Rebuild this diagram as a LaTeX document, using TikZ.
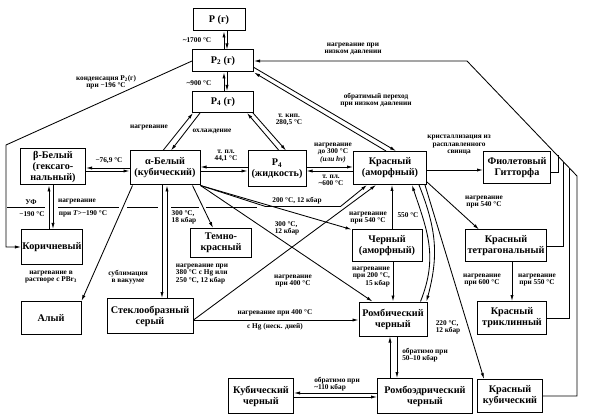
\documentclass[tikz,border=0pt]{standalone}
\usepackage{fontspec}
\setmainfont{Liberation Serif}
\usetikzlibrary{arrows.meta}

\begin{document}
\begin{tikzpicture}[
  x=1pt, y=-1pt,
  phase/.style = {draw, line width=1pt, align=center, inner sep=1pt,
                  font=\fontsize{10.2}{11}\selectfont\bfseries},
  lbl/.style   = {align=center, inner sep=0pt,
                  font=\fontsize{7.3}{7.2}\selectfont\bfseries},
  arr/.style   = {-{Latex[length=6pt, width=3.2pt]}, line width=0.85pt},
  ln/.style    = {line width=0.85pt},
]
\useasboundingbox (0,0) rectangle (596,419);

% gas phases
\node[phase, minimum width=52pt, minimum height=22pt] (pg)    at (219,20)  {P (г)};
\node[phase, minimum width=61pt, minimum height=22pt] (ptwo)  at (223,61)  {P\textsubscript{2} (г)};
\node[phase, minimum width=61pt, minimum height=21pt] (pfour) at (223,102) {P\textsubscript{4} (г)};

% middle row
\node[phase, minimum width=65pt, minimum height=36pt] (betaw)  at (53,167)  {β-Белый\\(гексаго-\\нальный)};
\node[phase, minimum width=70pt, minimum height=34pt] (alphaw) at (165,168) {α-Белый\\(кубический)};
\node[phase, minimum width=58pt, minimum height=36pt] (pliq)   at (277,169) {P\textsubscript{4}\\(жидкость)};
\node[phase, minimum width=73pt, minimum height=33pt] (redam)  at (390,168) {Красный\\(аморфный)};
\node[phase, minimum width=67pt, minimum height=32pt] (violet) at (517,168) {Фиолетовый\\Гитторфа};

\node[phase, minimum width=61pt, minimum height=35pt] (brown)   at (52,247)  {Коричневый};
\node[phase, minimum width=61pt, minimum height=29pt] (darkred) at (221,243) {Темно-\\красный};
\node[phase, minimum width=70pt, minimum height=32pt] (blackam) at (387,246) {Черный\\(аморфный)};
\node[phase, minimum width=81pt, minimum height=32pt] (redtet)  at (506,246) {Красный\\тетрагональный};

\node[phase, minimum width=60pt, minimum height=33pt] (scarlet) at (51,318)  {Алый};
\node[phase, minimum width=86pt, minimum height=35pt] (glassy)  at (150,316) {Стеклообразный\\серый};
\node[phase, minimum width=68pt, minimum height=34pt] (orthob)  at (393,319) {Ромбический\\черный};
\node[phase, minimum width=69pt, minimum height=33pt] (redtri)  at (512,318) {Красный\\триклинный};

\node[phase, minimum width=65pt, minimum height=35pt] (cubicb) at (261,396) {Кубический\\черный};
\node[phase, minimum width=95pt, minimum height=35pt] (rhomb)  at (425,396) {Ромбоэдрический\\черный};
\node[phase, minimum width=65pt, minimum height=33pt] (redcub) at (510,396) {Красный\\кубический};

% gas equilibria
\draw[arr] ([xshift=1pt]ptwo.north) -- ([xshift=1pt]ptwo.north |- pg.south);
\draw[arr] ([xshift=4pt]ptwo.north |- pg.south) -- ([xshift=4pt]ptwo.north);
\draw[arr] ([xshift=1pt]pfour.north) -- ([xshift=1pt]pfour.north |- ptwo.south);
\draw[arr] ([xshift=4pt]pfour.north |- ptwo.south) -- ([xshift=4pt]pfour.north);
\node[lbl] (l1700) at (197,40) {\textasciitilde1700 °C};
\node[lbl] (l900)  at (199,83) {\textasciitilde900 °C};

\draw[arr] (ptwo.west) -- ++(-186,84) |- (brown.west);
\node[lbl] (lcond) at (106,82) {конденсация P\textsubscript{2}(г)\\при −196 °C};

\draw[arr] ([xshift=-2pt]alphaw.north) -- ([xshift=1pt]pfour.south west);
\draw[arr] ([xshift=8pt]pfour.south west) -- ([xshift=6pt]alphaw.north);
\node[lbl] (lheat) at (149,128) {нагревание};
\node[lbl] (lcool) at (212,131) {охлаждение};

\draw[arr] ([xshift=2pt]pliq.north) -- ([xshift=-7pt]pfour.south east);
\draw[arr] ([xshift=-1pt]pfour.south east) -- ([xshift=9pt]pliq.north);
\node[lbl] (lboil) at (289,120) {т. кип.\\280,5 °C};

\draw[arr] ([xshift=-4pt]redam.north) -- (ptwo.south east);
\draw[arr] ([yshift=5pt]ptwo.south east) -- ([xshift=6pt]redam.north);
\node[lbl] (lrevlow) at (376,100) {обратимый переход\\при низком давлении};

% heating at low pressure, from the red forms
\draw[arr] (redcub.east) -- ++(34,0) -- ++(0,-220) -- ++(-110,-115) -- (ptwo.east);
\draw[ln] ([yshift=-4pt]violet.east) -| ++(7,-17);
\draw[ln] (redtet.east) -| ++(16,-84);
\draw[ln] (redtri.east) -| ++(22,-150);
\node[lbl] (llowp) at (353,49) {нагревание при\\низком давлении};

% white forms
\draw[arr] (alphaw.west) -- (alphaw.west -| betaw.east);
\draw[arr] ([yshift=-4pt]betaw.east) -- ([yshift=-4pt]betaw.east -| alphaw.west);
\node[lbl] (l769) at (109,161) {−76,9 °C};

\draw[arr] ([yshift=2pt]pliq.west) -- ([yshift=2pt]pliq.west -| alphaw.east);
\draw[arr] ([yshift=-3pt]alphaw.east) -- ([yshift=-3pt]alphaw.east -| pliq.west);
\node[lbl] (lmelt44) at (226,156) {т. пл.\\44,1 °C};

\draw[arr] ([yshift=2pt]pliq.east) -- ([yshift=2pt]pliq.east -| redam.west);
\draw[arr] ([yshift=-3pt]redam.west) -- ([yshift=-3pt]redam.west -| pliq.east);
\node[lbl] (lheat300) at (333,153) {нагревание\\до 300 °C\\\textit{(или hν)}};
\node[lbl] (lmelt600) at (331,180) {т. пл.\\\textasciitilde600 °C};

\draw[arr] ([xshift=-3pt]brown.north) -- ([xshift=-3pt]brown.north |- betaw.south);
\draw[arr] ([xshift=1pt]brown.north |- betaw.south) -- ([xshift=1pt]brown.north);
\node[lbl] (luv)   at (31,202) {УФ};
\node[lbl] (luvt)  at (32,214) {−190 °C};
\node[lbl] (lheatb) at (77,202) {нагревание};
\node[lbl] (ltb)   at (83,214) {при \textit{T}>−190 °C};
\draw[ln] (7,207) -- (45,207) (58,207) -- (119,207) (127,207) -- (158,207)
          (171,207) -- (199,207) (206,207) -- (257,207);

\draw[arr] ([xshift=3pt]alphaw.south west) -- (scarlet.north east);
\node[lbl] (lpbr) at (51,277) {нагревание в\\растворе с PBr\textsubscript{3}};

\draw[arr] ([xshift=-3pt]alphaw.south) -- ([xshift=-3pt]alphaw.south |- glassy.north);
\draw[arr] ([xshift=2pt]alphaw.south |- glassy.north) -- ([xshift=2pt]alphaw.south);
\node[lbl] (lsubl) at (128,277) {сублимация\\в вакууме};
\node[lbl, align=left] (l30018) at (184,217) {300 °C,\\18 кбар};
\node[lbl, align=left] (lhg380) at (202,274) {нагревание при\\380 °C с Hg или\\250 °C, 12 кбар};

\draw[arr] ([xshift=-8pt]alphaw.south east) -- ([xshift=-8pt]darkred.north);
\draw[arr] (alphaw.south east) -- ++(65,21) -- ++(75,0) -- ([xshift=14pt]redam.south west);
\node[lbl] (l200) at (297,201) {200 °C, 12 кбар};
\draw[arr] (alphaw.south east) -- (blackam.north west);
\draw[arr] (alphaw.south east) -- ([xshift=14pt]orthob.north west);
\node[lbl, align=left] (l30012) at (287,228) {300 °C,\\12 кбар};

\draw[arr] ([yshift=-4pt]glassy.east) -- ([xshift=23pt]redam.south west);
\node[lbl] (l400a) at (293,281) {нагревание\\при 400 °C};
\draw[arr] ([yshift=-4pt]glassy.east) -- ([yshift=-4pt]glassy.east -| orthob.west);
\node[lbl] (l400b)   at (275,313) {нагревание при 400 °C};
\node[lbl] (lhgdays) at (275,327) {с Hg (неск. дней)};

% black and red forms
\draw[arr] ([xshift=5pt]blackam.north) -- ([xshift=5pt]blackam.north |- redam.south);
\node[lbl] (l540a) at (368,218) {нагревание\\при 540 °C};
\node[lbl] (l550)  at (408,215) {550 °C};
\draw[arr] ([xshift=6pt]blackam.south) -- ([xshift=6pt]blackam.south |- orthob.north);
\node[lbl, align=right] (l200b) at (371,277) {нагревание\\при 200 °C,\\15 кбар};

\draw[arr] ([xshift=-7pt]orthob.north east) .. controls +(18,-45) and +(15,45) .. ([xshift=22pt]redam.south);
\draw[arr] ([xshift=29pt]redam.south) .. controls +(18,45) and +(12,-45) .. ([xshift=-1pt]orthob.north east);
\node[lbl, align=left] (l220) at (448,327) {220 °C,\\12 кбар};

\draw[arr] ([xshift=-2pt]redam.south east) -- ([xshift=7pt]redcub.north west);
\draw[arr] ([yshift=3pt]redam.south east) -- ([xshift=14pt]redtet.north west);
\node[lbl] (l540b) at (484,202) {нагревание\\при 540 °C};

\draw[arr] ([yshift=-2pt]redam.east) -- ([yshift=-2pt]redam.east -| violet.west);
\node[lbl] (lcryst) at (459,145) {кристаллизация из\\расплавленного\\свинца};

\draw[arr] ([xshift=6pt]redtet.south) -- ([xshift=6pt]redtet.south |- redtri.north);
\node[lbl] (l600)  at (482,280) {нагревание\\при 600 °C};
\node[lbl] (l550b) at (537,280) {нагревание\\при 550 °C};

\draw[arr] ([xshift=-3pt]orthob.south |- rhomb.north) -- ([xshift=-3pt]orthob.south);
\draw[arr] ([xshift=4pt]orthob.south) -- ([xshift=4pt]orthob.south |- rhomb.north);
\node[lbl, align=left] (lrev50) at (425,355) {обратимо при\\50–10 кбар};

\draw[arr] ([yshift=3pt]rhomb.west) -- ([yshift=3pt]rhomb.west -| cubicb.east);
\draw[arr] ([yshift=-1pt]cubicb.east) -- ([yshift=-1pt]cubicb.east -| rhomb.west);
\node[lbl, align=left] (lrev110) at (337,384) {обратимо при\\\textasciitilde110 кбар};
\end{tikzpicture}
\end{document}
